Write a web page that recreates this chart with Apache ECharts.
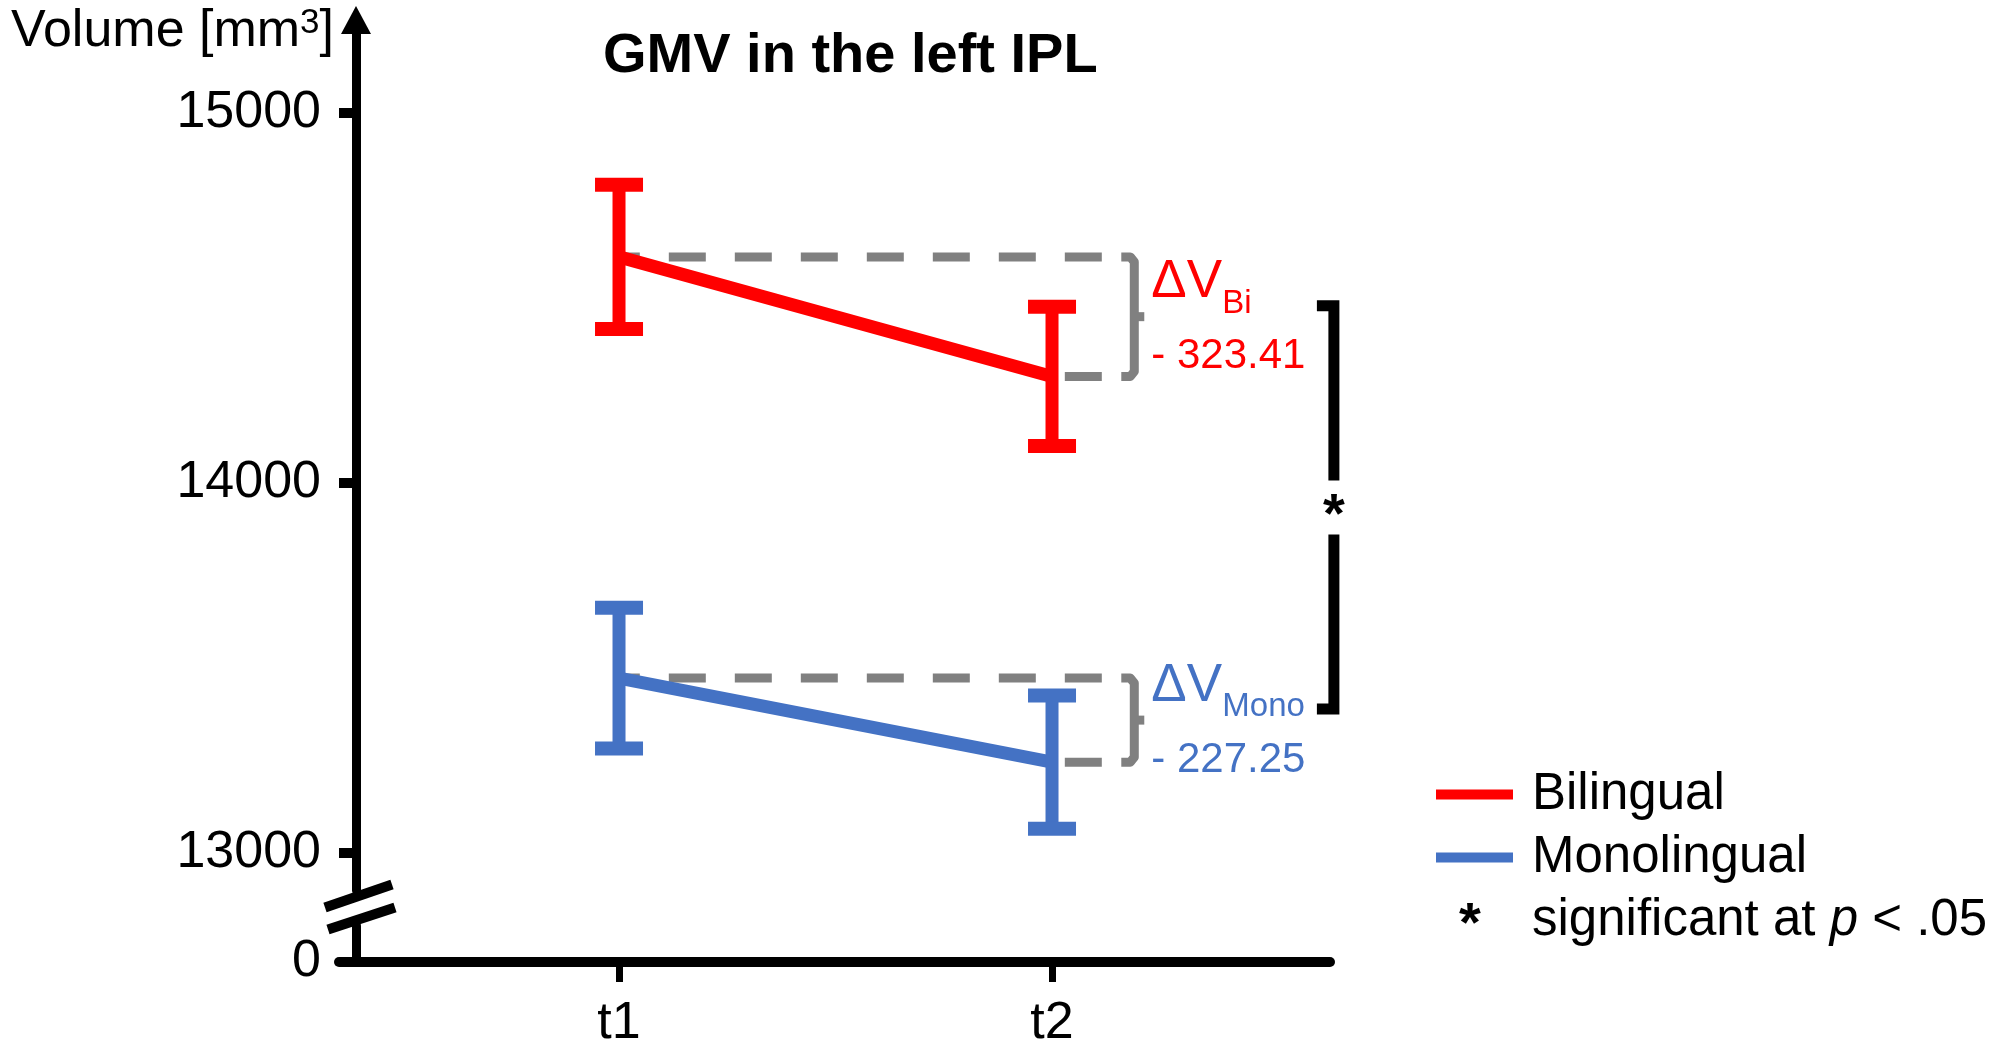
<!DOCTYPE html>
<html>
<head>
<meta charset="utf-8">
<title>GMV in the left IPL</title>
<script src="https://cdn.jsdelivr.net/npm/echarts@6.0.0/dist/echarts.min.js"></script>
<style>
  html, body { margin: 0; padding: 0; background: #fff; }
  #chart { width: 1995px; height: 1052px; }
</style>
</head>
<body>
<div id="chart"></div>
<script>
// values
const timeLabels = ['t1', 't2'];
const timeX = [1, 2];
const groupNames = ['Bilingual', 'Monolingual'];
const groupColors = ['#ff0000', '#4472c4'];
const biMean = [14610, 14287];
const biErr = [195, 188];
const monoMean = [13472, 13245];
const monoErr = [190, 180];
const deltaSubs = ['Bi', 'Mono'];
const deltaValues = [-323.41, -227.25];
const yTicks = [0, 13000, 14000, 15000];
const sigName = 'significant at p < .05';

const FONT = 'Liberation Sans';
const GRID_LEFT = 339;
const AXIS_SHIFT = 17;   // y axis sits a bit right of where the x axis starts
const BRACE_X = 2.19;
const DASH_END = 2.115;
const SIG_X = 2.651;

const means = [biMean, monoMean];
const errs = [biErr, monoErr];

const chart = echarts.init(document.getElementById('chart'));

function renderErrorBar(params, api) {
  const x = api.value(0), m = api.value(1), e = api.value(2);
  const top = api.coord([x, m + e]);
  const bot = api.coord([x, m - e]);
  const color = api.visual('color');
  const half = 24;
  const cap = { stroke: color, lineWidth: 14 };
  return {
    type: 'group',
    children: [
      { type: 'line', shape: { x1: top[0], y1: top[1], x2: bot[0], y2: bot[1] }, style: { stroke: color, lineWidth: 13 } },
      { type: 'line', shape: { x1: top[0] - half, y1: top[1], x2: top[0] + half, y2: top[1] }, style: cap },
      { type: 'line', shape: { x1: bot[0] - half, y1: bot[1], x2: bot[0] + half, y2: bot[1] }, style: cap }
    ]
  };
}

function renderDelta(params, api) {
  const m1 = api.value(0), m2 = api.value(1), d = api.value(2), g = api.value(3);
  const color = groupColors[g];
  const p1 = api.coord([timeX[0], m1]);
  const p2 = api.coord([timeX[1], m2]);
  const e1 = api.coord([DASH_END, m1]);
  const e2 = api.coord([DASH_END, m2]);
  const xb = api.coord([BRACE_X, m1])[0];
  const y1 = p1[1], y2 = p2[1], ym = (y1 + y2) / 2;
  const gray = '#808080';
  const dash = { stroke: gray, lineWidth: 9, lineDash: [37, 29] };
  const tx = xb + 17;
  return {
    type: 'group',
    children: [
      { type: 'line', shape: { x1: e1[0], y1: e1[1], x2: p1[0], y2: p1[1] }, style: dash },
      { type: 'line', shape: { x1: e2[0], y1: e2[1], x2: p2[0], y2: p2[1] }, style: dash },
      {
        type: 'polyline',
        shape: { points: [[xb - 13, y1], [xb - 4, y1], [xb, y1 + 5], [xb, y2 - 5], [xb - 4, y2], [xb - 13, y2]] },
        style: { stroke: gray, lineWidth: 9, fill: null, lineJoin: 'round' }
      },
      { type: 'line', shape: { x1: xb, y1: ym, x2: xb + 10, y2: ym }, style: { stroke: gray, lineWidth: 9 } },
      {
        type: 'text', x: tx, y: ym - 34,
        style: { text: 'ΔV', fill: color, fontSize: 53, fontFamily: FONT, align: 'left', verticalAlign: 'middle' }
      },
      {
        type: 'text', x: tx + 71, y: ym - 13,
        style: { text: deltaSubs[g], fill: color, fontSize: 33, fontFamily: FONT, align: 'left', verticalAlign: 'middle' }
      },
      {
        type: 'text', x: tx, y: ym + 40,
        style: { text: '- ' + Math.abs(d).toFixed(2), fill: color, fontSize: 42, fontFamily: FONT, align: 'left', verticalAlign: 'middle' }
      }
    ]
  };
}

function renderSig(params, api) {
  const top = api.coord([SIG_X, api.value(0)]);
  const bot = api.coord([SIG_X, api.value(1)]);
  const x = top[0], yt = top[1] - 11, yb = bot[1] - 11;
  const yc = (yt + yb) / 2, gap = 27;
  const st = { stroke: '#000', lineWidth: 11, fill: null };
  return {
    type: 'group',
    children: [
      { type: 'polyline', shape: { points: [[x - 17, yt], [x, yt], [x, yc - gap]] }, style: st },
      { type: 'polyline', shape: { points: [[x, yc + gap], [x, yb], [x - 17, yb]] }, style: st },
      {
        type: 'text', x: x, y: yc + 9,
        style: { text: '*', fill: '#000', fontSize: 56, fontWeight: 'bold', fontFamily: FONT, align: 'center', verticalAlign: 'middle' }
      }
    ]
  };
}

const lineSeries = groupNames.map((name, g) => ({
  name: name,
  type: 'line',
  z: 3,
  showSymbol: false,
  data: timeX.map((x, i) => [x, means[g][i]]),
  itemStyle: { color: groupColors[g] },
  lineStyle: { color: groupColors[g], width: 13 }
}));

const errSeries = groupNames.map((name, g) => ({
  name: name,
  type: 'custom',
  z: 4,
  renderItem: renderErrorBar,
  itemStyle: { color: groupColors[g] },
  data: timeX.map((x, i) => [x, means[g][i], errs[g][i]])
}));

const option = {
  animation: false,
  backgroundColor: '#fff',
  textStyle: { fontFamily: FONT, color: '#000' },
  title: {
    text: 'GMV in the left IPL',
    left: 598,
    top: 24,
    textStyle: { fontFamily: FONT, fontSize: 56, fontWeight: 'bold', color: '#000' }
  },
  grid: { left: GRID_LEFT, right: 665, top: 20, bottom: 90, containLabel: false },
  legend: {
    orient: 'vertical',
    left: 1431,
    top: 764,
    itemWidth: 77,
    itemHeight: 10,
    itemGap: 12,
    icon: 'rect',
    selectedMode: false,
    data: [{ name: groupNames[0] }, { name: groupNames[1] }, { name: sigName, icon: 'none' }],
    formatter: name => name === sigName ? '{n|significant at }{i|p}{n| < .05}' : name,
    textStyle: {
      fontFamily: FONT, fontSize: 51, color: '#000', padding: [0, 0, 0, 14],
      rich: {
        n: { fontFamily: FONT, fontSize: 51, color: '#000' },
        i: { fontFamily: FONT, fontSize: 51, color: '#000', fontStyle: 'italic' }
      }
    }
  },
  xAxis: {
    type: 'value',
    min: 0.3533,
    max: 2.642,
    axisLine: { show: true, lineStyle: { color: '#000', width: 10 } },
    axisTick: { show: true, customValues: timeX, length: 20, lineStyle: { color: '#000', width: 7 } },
    axisLabel: {
      customValues: timeX,
      formatter: v => timeLabels[timeX.indexOf(v)],
      fontFamily: FONT, fontSize: 52, color: '#000', margin: 36
    },
    splitLine: { show: false }
  },
  yAxis: {
    type: 'value',
    min: 0,
    max: 15250,
    offset: -AXIS_SHIFT,
    breaks: [{ start: 100, end: 12900, gap: 95 }],
    breakArea: { show: false },
    axisLine: {
      show: true,
      lineStyle: { color: '#000', width: 9 },
      symbol: ['none', 'triangle'],
      symbolSize: [30, 28]
    },
    axisTick: { show: true, customValues: yTicks, length: 17, lineStyle: { color: '#000', width: 10 } },
    axisLabel: {
      customValues: yTicks,
      formatter: v => String(v),
      fontFamily: FONT, fontSize: 52, color: '#000', margin: 35
    },
    splitLine: { show: false },
    name: '{a|Volume [mm}{s|3}{a|]}',
    nameLocation: 'end',
    nameGap: -12,
    nameTextStyle: {
      align: 'right',
      verticalAlign: 'middle',
      padding: [0, 22, 0, 0],
      rich: {
        a: { fontFamily: FONT, fontSize: 52, color: '#000' },
        s: { fontFamily: FONT, fontSize: 35, color: '#000', verticalAlign: 'top' }
      }
    }
  },
  series: [
    {
      name: 'deltas',
      type: 'custom',
      z: 1,
      renderItem: renderDelta,
      data: groupNames.map((n, g) => [means[g][0], means[g][1], deltaValues[g], g])
    },
    ...lineSeries,
    ...errSeries,
    {
      name: sigName,
      type: 'custom',
      z: 2,
      renderItem: renderSig,
      itemStyle: { color: '#000' },
      data: [[(biMean[0] + biMean[1]) / 2, (monoMean[0] + monoMean[1]) / 2]]
    }
  ]
};

chart.setOption(option);

// axis break mark "//" and the legend asterisk
const y0 = chart.convertToPixel({ yAxisIndex: 0 }, 0);
const y13 = chart.convertToPixel({ yAxisIndex: 0 }, 13000);
const cy = (y0 + y13) / 2;
const cx = GRID_LEFT + AXIS_SHIFT + 4;
const u1 = [cx - 35, cy], u2 = [cx + 32, cy - 23];
const l1 = [cx - 32, cy + 22], l2 = [cx + 35, cy];
chart.setOption({
  graphic: [
    { type: 'polygon', z: 100, shape: { points: [u1, u2, l2, l1] }, style: { fill: '#fff' } },
    { type: 'line', z: 101, shape: { x1: u1[0], y1: u1[1], x2: u2[0], y2: u2[1] }, style: { stroke: '#000', lineWidth: 10 } },
    { type: 'line', z: 101, shape: { x1: l1[0], y1: l1[1], x2: l2[0], y2: l2[1] }, style: { stroke: '#000', lineWidth: 10 } },
    {
      type: 'text', z: 101, x: 1470, y: 926,
      style: { text: '*', fill: '#000', fontSize: 56, fontWeight: 'bold', fontFamily: FONT, align: 'center', verticalAlign: 'middle' }
    }
  ]
});
</script>
</body>
</html>
